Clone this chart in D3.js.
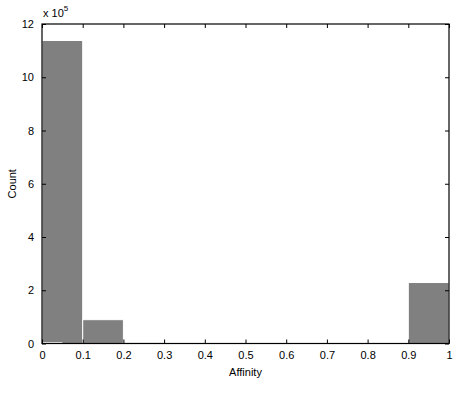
<!DOCTYPE html>
<html>
<head>
<meta charset="utf-8">
<script src="https://cdn.jsdelivr.net/npm/d3@7"></script>
<style>
  body { margin: 0; background: #fff; }
  svg text { font-family: "Liberation Sans", Arial, sans-serif; font-size: 11px; fill: #000; }
</style>
</head>
<body>
<div id="chart"></div>
<script>
// histogram of affinity values, counts in units of 10^5
var binStarts = [0, 0.1, 0.2, 0.3, 0.4, 0.5, 0.6, 0.7, 0.8, 0.9];
var binCounts = [11.38, 0.895, 0.03, 0, 0, 0, 0, 0, 0, 2.29];
// thin second bar sitting at the bottom of the first bin
var smallBinStarts = [0];
var smallBinCounts = [0.03];
var smallBinWidth = 0.05;
var binWidth = 0.1;
var xTicks = [0, 0.1, 0.2, 0.3, 0.4, 0.5, 0.6, 0.7, 0.8, 0.9, 1];
var yTicks = [0, 2, 4, 6, 8, 10, 12];

var width = 458, height = 416;
var margin = {top: 24, right: 9, bottom: 72.5, left: 42};
var w = width - margin.left - margin.right;
var h = height - margin.top - margin.bottom;

var svg = d3.select("#chart").append("svg")
  .attr("width", width)
  .attr("height", height);

var g = svg.append("g")
  .attr("transform", "translate(" + margin.left + "," + margin.top + ")");

var x = d3.scaleLinear().domain([0, 1]).range([0, w]);
var y = d3.scaleLinear().domain([0, 12]).range([h, 0]);

// bars
g.selectAll("rect.bar")
  .data(binStarts.map(function (s, i) { return {x0: s, v: binCounts[i]}; }))
  .enter().append("rect")
  .attr("class", "bar")
  .attr("x", function (d) { return x(d.x0); })
  .attr("width", function (d) { return x(d.x0 + binWidth) - x(d.x0); })
  .attr("y", function (d) { return y(d.v); })
  .attr("height", function (d) { return y(0) - y(d.v); })
  .attr("fill", "#808080")
  .attr("stroke", function (d) { return d.v > 0 ? "#fff" : "none"; })
  .attr("stroke-width", 1);

g.selectAll("rect.small")
  .data(smallBinStarts.map(function (s, i) { return {x0: s, v: smallBinCounts[i]}; }))
  .enter().append("rect")
  .attr("class", "small")
  .attr("x", function (d) { return x(d.x0); })
  .attr("width", function (d) { return x(d.x0 + smallBinWidth) - x(d.x0); })
  .attr("y", function (d) { return y(d.v) - 0.5; })
  .attr("height", 1)
  .attr("fill", "#fff");

// axes box
g.append("rect")
  .attr("width", w).attr("height", h)
  .attr("fill", "none").attr("stroke", "#000").attr("stroke-width", 1.2);

var tickLen = 4;

// bottom axis (ticks inward)
var xAxis = d3.axisBottom(x).tickValues(xTicks).tickSize(-tickLen).tickPadding(tickLen + 4)
  .tickFormat(function (d) { return d === 0 || d === 1 ? d3.format("d")(d) : d3.format(".1f")(d); });
var gx = g.append("g").attr("transform", "translate(0," + h + ")").call(xAxis);
gx.select(".domain").remove();
gx.selectAll(".tick line").attr("stroke", "#000");
gx.selectAll(".tick text").style("font-size", "11px").attr("font-family", null);

// top ticks
var gxt = g.append("g").call(d3.axisTop(x).tickValues(xTicks).tickSize(-tickLen).tickFormat(""));
gxt.select(".domain").remove();

// left axis
var yAxis = d3.axisLeft(y).tickValues(yTicks).tickSize(-tickLen).tickPadding(tickLen + 4);
var gy = g.append("g").call(yAxis);
gy.select(".domain").remove();
gy.selectAll(".tick text").style("font-size", "11px").attr("font-family", null);

// right ticks
var gyr = g.append("g").attr("transform", "translate(" + w + ",0)")
  .call(d3.axisRight(y).tickValues(yTicks).tickSize(-tickLen).tickFormat(""));
gyr.select(".domain").remove();

// exponent label
var expo = svg.append("text")
  .attr("x", margin.left + 1)
  .attr("y", margin.top - 7);
expo.append("tspan").text("x 10");
expo.append("tspan").attr("dy", -6).style("font-size", "8px").text("5");

// axis labels
svg.append("text")
  .attr("x", margin.left + w / 2)
  .attr("y", margin.top + h + 32)
  .attr("text-anchor", "middle")
  .text("Affinity");

svg.append("text")
  .attr("transform", "translate(16," + (margin.top + h / 2) + ") rotate(-90)")
  .attr("text-anchor", "middle")
  .text("Count");
</script>
</body>
</html>
